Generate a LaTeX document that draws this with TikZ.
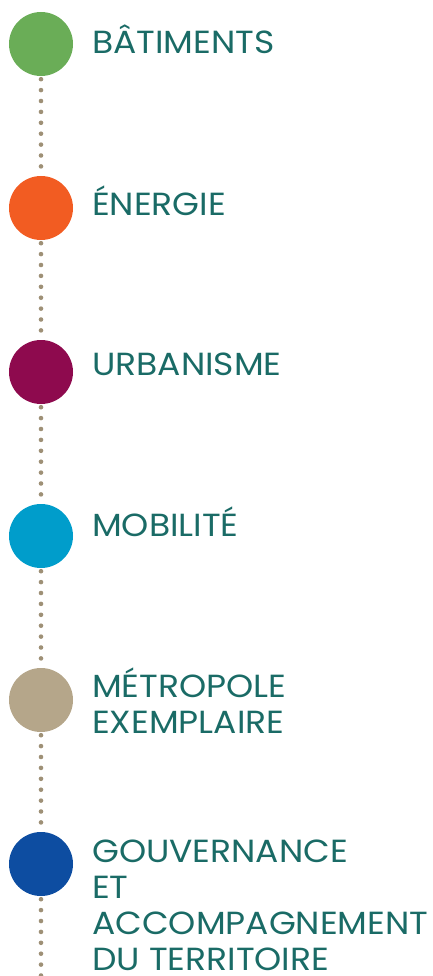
\documentclass[tikz,border=0pt]{standalone}
\usepackage{fontspec}
\setmainfont[FakeStretch=1.08]{Poppins}
\definecolor{vert}{HTML}{6AAD57}
\definecolor{orange}{HTML}{F25C22}
\definecolor{prune}{HTML}{8E0A4E}
\definecolor{cyan}{HTML}{009DCB}
\definecolor{beige}{HTML}{B5A68A}
\definecolor{bleu}{HTML}{0D4DA1}
\definecolor{texte}{HTML}{1A6B66}
\definecolor{pointille}{HTML}{9E9076}
\begin{document}
\begin{tikzpicture}[x=1pt,y=-1pt,
    rond/.style={circle,minimum size=64pt,inner sep=0pt},
    titre/.style={anchor=base west,inner sep=0pt,text=texte,align=left,
      font=\fontsize{32}{36}\selectfont},
    dots/.style={pointille,line width=4.6pt,line cap=round,
      dash pattern=on 0pt off 10.9pt,shorten <=3pt}]
      \useasboundingbox (0,0) rectangle (433,976);
      \node [rond,fill=vert] (c1) at (41,44) {};
      \node [rond,fill=orange] (c2) at (41,208) {};
      \node [rond,fill=prune] (c3) at (41,372) {};
      \node [rond,fill=cyan] (c4) at (41,536) {};
      \node [rond,fill=beige] (c5) at (41,700) {};
      \node [rond,fill=bleu] (c6) at (41,864) {};
      \coordinate (fin) at (41,976);
      \draw [dots] (c1.south) -- (c2.north);
      \draw [dots] (c2.south) -- (c3.north);
      \draw [dots] (c3.south) -- (c4.north);
      \draw [dots] (c4.south) -- (c5.north);
      \draw [dots] (c5.south) -- (c6.north);
      \draw [dots] (c6.south) -- (fin);
      \node [titre] (t1) at (92,54) {BÂTIMENTS};
      \node [titre] (t2) at (92,215) {ÉNERGIE};
      \node [titre] (t3) at (92,375) {URBANISME};
      \node [titre] (t4) at (92,536) {MOBILITÉ};
      \node [titre] (t5) at (92,733) {MÉTROPOLE\\EXEMPLAIRE};
      \node [titre] (t6) at (92,970) {GOUVERNANCE\\ET\\ACCOMPAGNEMENT\\DU TERRITOIRE};
    \end{tikzpicture}
\end{document}
